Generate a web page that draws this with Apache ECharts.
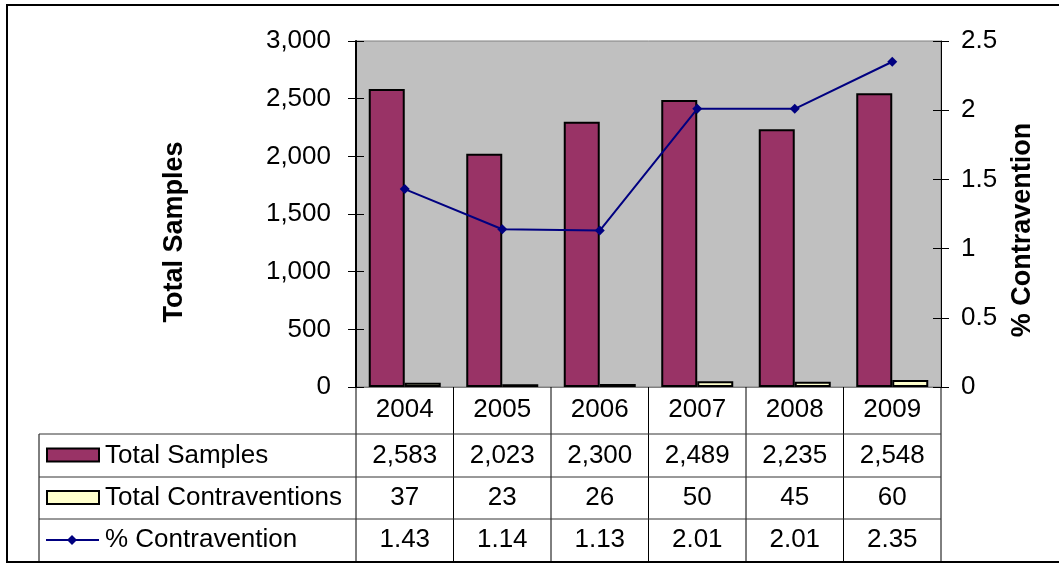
<!DOCTYPE html>
<html><head><meta charset="utf-8">
<script src="https://cdn.jsdelivr.net/npm/echarts@6/dist/echarts.min.js"></script>
<style>html,body{margin:0;padding:0;background:#fff}#c{width:1059px;height:565px}</style>
</head><body><div id="c"></div>
<script>
var years = ['2004','2005','2006','2007','2008','2009'];
var totalSamples = [2583, 2023, 2300, 2489, 2235, 2548];
var totalContraventions = [37, 23, 26, 50, 45, 60];
var pctContravention = [1.43, 1.14, 1.13, 2.01, 2.01, 2.35];
var leftTicks = {min: 0, max: 3000, interval: 500};
var rightTicks = {min: 0, max: 2.5, interval: 0.5};
var seriesNames = ['Total Samples', 'Total Contraventions', '% Contravention'];

var FONT = 'Liberation Sans, Arial, sans-serif';
var FS = 26;
var chart = echarts.init(document.getElementById('c'), null, {renderer: 'canvas'});
function fmtComma(v){ return String(v).replace(/\B(?=(\d{3})+(?!\d))/g, ','); }

var option = {
  animation: false,
  backgroundColor: '#fff',
  grid: {left: 356, top: 41, right: 118, bottom: 178, show: true, backgroundColor: '#C0C0C0', borderColor: '#808080', borderWidth: 1},
  xAxis: {
    type: 'category', data: years,
    axisLine: {lineStyle: {color: '#808080', width: 1}},
    axisTick: {show: false},
    axisLabel: {color: '#000', fontSize: FS, fontFamily: FONT, margin: 10}
  },
  yAxis: [
    {type: 'value', position: 'left', min: leftTicks.min, max: leftTicks.max, interval: leftTicks.interval,
     name: 'Total Samples', nameLocation: 'middle', nameRotate: 90, nameGap: 168,
     nameTextStyle: {fontSize: 27, fontWeight: 'bold', color: '#000', fontFamily: FONT, padding: [0, 36, 0, 0]},
     axisLine: {show: true, lineStyle: {color: '#000', width: 2}},
     axisTick: {show: true, length: 8, lineStyle: {color: '#000'}},
     splitLine: {show: false},
     axisLabel: {color: '#000', fontSize: FS, fontFamily: FONT, margin: 25, formatter: fmtComma}},
    {type: 'value', position: 'right', min: rightTicks.min, max: rightTicks.max, interval: rightTicks.interval,
     name: '% Contravention', nameLocation: 'middle', nameRotate: 90, nameGap: 68,
     nameTextStyle: {fontSize: 27, fontWeight: 'bold', color: '#000', fontFamily: FONT, padding: [0, 32, 0, 0]},
     axisLine: {show: true, lineStyle: {color: '#000', width: 1}},
     axisTick: {show: true, length: 8, lineStyle: {color: '#000'}},
     splitLine: {show: false},
     axisLabel: {color: '#000', fontSize: FS, fontFamily: FONT, margin: 20}},
    {type: 'value', position: 'left', min: leftTicks.min, max: leftTicks.max, interval: leftTicks.interval,
     axisLine: {show: false}, axisLabel: {show: false}, splitLine: {show: false},
     axisTick: {show: true, inside: true, length: 8, lineStyle: {color: '#000'}}},
    {type: 'value', position: 'right', min: rightTicks.min, max: rightTicks.max, interval: rightTicks.interval,
     axisLine: {show: false}, axisLabel: {show: false}, splitLine: {show: false},
     axisTick: {show: true, inside: true, length: 8, lineStyle: {color: '#000'}}}
  ],
  series: [
    {name: seriesNames[0], type: 'bar', data: totalSamples, barWidth: 36, barGap: '0%',
     itemStyle: {color: '#993366', borderColor: '#000', borderWidth: 2}},
    {name: seriesNames[1], type: 'bar', data: totalContraventions, barWidth: 36, barGap: '0%',
     itemStyle: {color: '#FFFFCC', borderColor: '#000', borderWidth: 2}},
    {name: seriesNames[2], type: 'line', yAxisIndex: 1, data: pctContravention,
     symbol: 'diamond', symbolSize: 10, lineStyle: {color: '#000080', width: 2},
     itemStyle: {color: '#000080'}}
  ]
};
chart.setOption(option);

// Build data table below the plot from the arrays, aligned to the category axis
var xs = years.map(function(y){ return chart.convertToPixel({xAxisIndex: 0}, y); });
var bw = xs[1] - xs[0];
var y0 = chart.convertToPixel({yAxisIndex: 0}, 0);
var rowTops = [y0, 434, 477, 519, 561];
var tableLeft = 39;
var bounds = [xs[0] - bw/2];
xs.forEach(function(x){ bounds.push(x + bw/2); });
var g = [];
bounds.forEach(function(bx){
  g.push({type: 'line', shape: {x1: bx, y1: y0, x2: bx, y2: rowTops[4]}, style: {stroke: '#000', lineWidth: 1}, z: 100});
});
g.push({type: 'line', shape: {x1: tableLeft, y1: rowTops[1], x2: tableLeft, y2: rowTops[4]}, style: {stroke: '#000', lineWidth: 1}, z: 100});
for (var r = 1; r <= 3; r++) {
  g.push({type: 'line', shape: {x1: tableLeft, y1: rowTops[r], x2: bounds[bounds.length-1], y2: rowTops[r]}, style: {stroke: '#333', lineWidth: 1}, z: 100});
}
var rows = [
  totalSamples.map(fmtComma),
  totalContraventions.map(String),
  pctContravention.map(function(v){ return v.toFixed(2); })
];
rows.forEach(function(vals, ri){
  var cy = (rowTops[ri+1] + rowTops[ri+2]) / 2;
  vals.forEach(function(v, ci){
    g.push({type: 'text', x: xs[ci], y: cy, style: {text: v, fill: '#000', font: FS + 'px ' + FONT, textAlign: 'center', textVerticalAlign: 'middle'}, z: 100});
  });
  g.push({type: 'text', x: 105, y: cy, style: {text: seriesNames[ri], fill: '#000', font: FS + 'px ' + FONT, textAlign: 'left', textVerticalAlign: 'middle'}, z: 100});
  if (ri < 2) {
    g.push({type: 'rect', shape: {x: 47, y: cy - 7, width: 52, height: 13},
      style: {fill: ri === 0 ? '#993366' : '#FFFFCC', stroke: '#000', lineWidth: 2}, z: 100});
  } else {
    g.push({type: 'line', shape: {x1: 46, y1: cy, x2: 99, y2: cy}, style: {stroke: '#000080', lineWidth: 2}, z: 100});
    g.push({type: 'polygon', shape: {points: [[72, cy-5],[77, cy],[72, cy+5],[67, cy]]}, style: {fill: '#000080'}, z: 101});
  }
});
g.push({type: 'rect', shape: {x: 7, y: 5, width: 1070, height: 557}, style: {fill: 'none', stroke: '#000', lineWidth: 2}, z: 100});
chart.setOption({graphic: g});
</script>
</body></html>
